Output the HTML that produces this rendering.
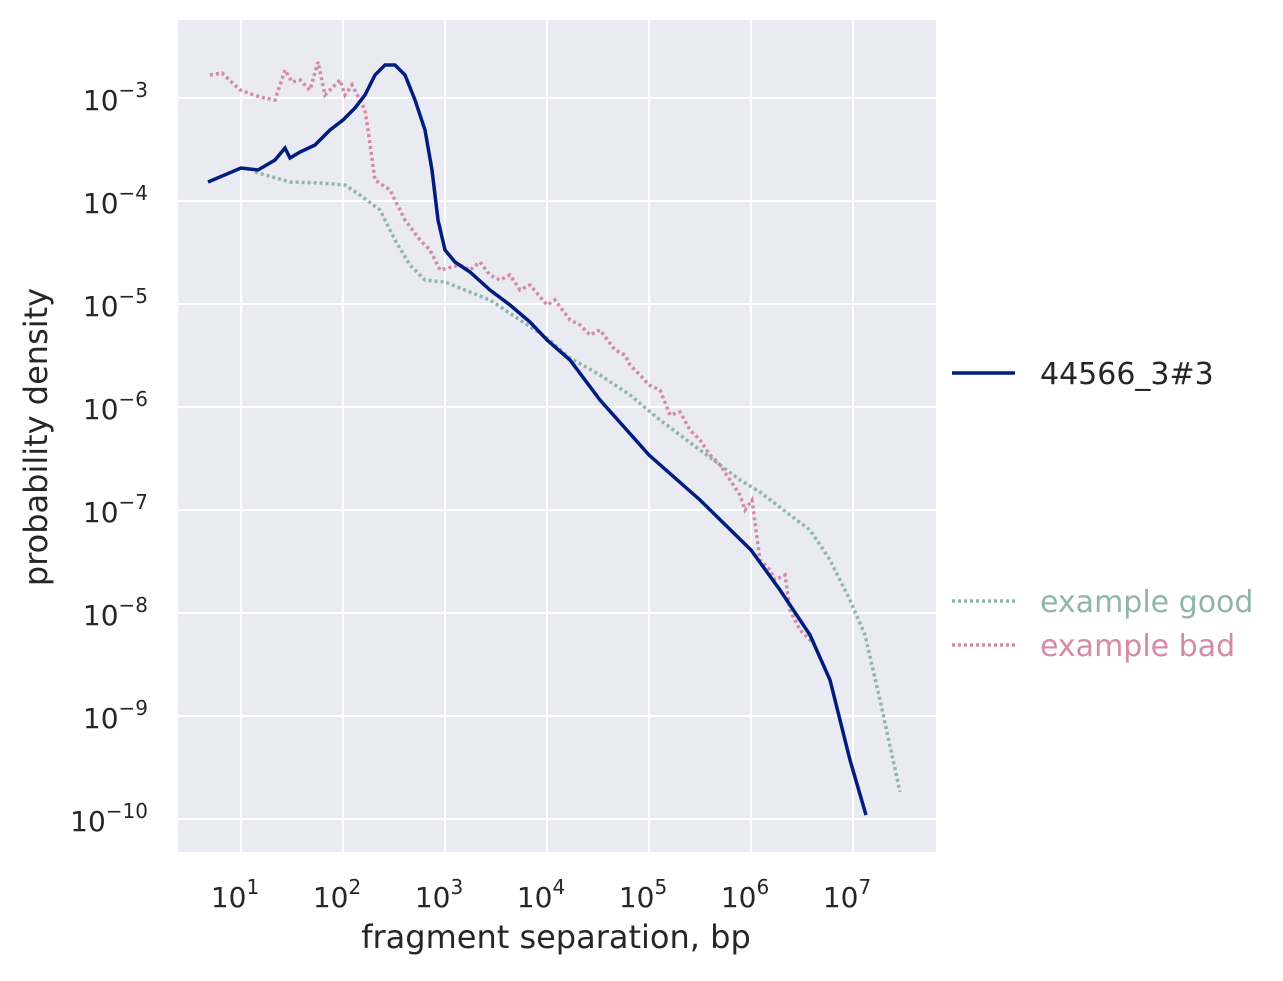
<!DOCTYPE html>
<html><head><meta charset="utf-8"><style>
body{margin:0;background:#fff}
svg{font-family:"DejaVu Sans","Liberation Sans",sans-serif}
</style></head><body>
<svg width="1283" height="976" xmlns="http://www.w3.org/2000/svg">
<rect x="178" y="20" width="758" height="832" fill="#eaeaf2"/>
<g stroke="#fff" stroke-width="2">
<line x1="241" y1="20" x2="241" y2="852"/><line x1="343" y1="20" x2="343" y2="852"/>
<line x1="445" y1="20" x2="445" y2="852"/><line x1="547" y1="20" x2="547" y2="852"/>
<line x1="649" y1="20" x2="649" y2="852"/><line x1="751" y1="20" x2="751" y2="852"/>
<line x1="853" y1="20" x2="853" y2="852"/>
<line x1="178" y1="98" x2="936" y2="98"/><line x1="178" y1="201" x2="936" y2="201"/>
<line x1="178" y1="304" x2="936" y2="304"/><line x1="178" y1="407" x2="936" y2="407"/>
<line x1="178" y1="510" x2="936" y2="510"/><line x1="178" y1="613" x2="936" y2="613"/>
<line x1="178" y1="716" x2="936" y2="716"/><line x1="178" y1="819" x2="936" y2="819"/>
</g>
<g fill="#262626" font-size="28" text-anchor="middle">
<text x="235" y="907">10<tspan font-size="20" dy="-13">1</tspan></text>
<text x="337" y="907">10<tspan font-size="20" dy="-13">2</tspan></text>
<text x="439" y="907">10<tspan font-size="20" dy="-13">3</tspan></text>
<text x="541" y="907">10<tspan font-size="20" dy="-13">4</tspan></text>
<text x="643" y="907">10<tspan font-size="20" dy="-13">5</tspan></text>
<text x="745" y="907">10<tspan font-size="20" dy="-13">6</tspan></text>
<text x="847" y="907">10<tspan font-size="20" dy="-13">7</tspan></text>
</g>
<g fill="#262626" font-size="28" text-anchor="end">
<text x="148" y="110">10<tspan font-size="20" dy="-13">−3</tspan></text>
<text x="148" y="213">10<tspan font-size="20" dy="-13">−4</tspan></text>
<text x="148" y="316">10<tspan font-size="20" dy="-13">−5</tspan></text>
<text x="148" y="419">10<tspan font-size="20" dy="-13">−6</tspan></text>
<text x="148" y="522">10<tspan font-size="20" dy="-13">−7</tspan></text>
<text x="148" y="625">10<tspan font-size="20" dy="-13">−8</tspan></text>
<text x="148" y="728">10<tspan font-size="20" dy="-13">−9</tspan></text>
<text x="148" y="831">10<tspan font-size="20" dy="-13">−10</tspan></text>
</g>
<text x="556" y="948" font-size="32" fill="#262626" text-anchor="middle">fragment separation, bp</text>
<text transform="translate(47,437) rotate(-90)" font-size="32" fill="#262626" text-anchor="middle">probability density</text>
<polyline fill="none" stroke="#8fb5ad" stroke-width="3.5" stroke-dasharray="3,3" points="255,172 290,182 320,183 345,185 360,195 380,210 395,240 410,265 425,280 445,282 465,290 490,300 520,320 547,338 570,358 600,375 630,395 660,420 700,450 740,480 760,492 790,515 810,530 830,560 850,600 865,635 880,700 900,792"/>
<polyline fill="none" stroke="#d48aa6" stroke-width="3.5" stroke-dasharray="3,3" points="210,75 222,73 240,90 260,97 275,100 285,70 292,82 300,80 310,90 318,62 325,95 330,90 340,80 345,95 352,85 360,100 365,110 368,130 375,180 390,190 405,220 420,240 430,250 440,270 460,265 470,270 480,262 490,275 500,280 510,275 520,290 530,285 547,305 555,300 570,320 580,325 590,335 600,330 615,350 625,355 630,365 640,375 649,385 660,390 670,415 680,412 690,430 700,440 710,455 720,465 730,480 740,495 745,510 752,500 760,560 770,570 775,580 785,575 790,610 800,630 815,645"/>
<polyline fill="none" stroke="#001c7f" stroke-width="3.5" points="208,182 241,168 258,170 275,160 285,148 290,158 300,152 315,145 330,130 343,120 355,108 365,95 375,75 385,65 395,65 405,75 415,100 425,130 432,170 438,220 445,250 455,262 470,272 490,290 510,305 530,322 547,340 570,360 600,400 649,455 700,500 751,550 780,590 810,635 830,680 850,760 866,815"/>
<line x1="952" y1="373" x2="1015" y2="373" stroke="#001c7f" stroke-width="3.5"/>
<text x="1040" y="384" font-size="30" fill="#262626">44566_3#3</text>
<line x1="952" y1="601" x2="1015" y2="601" stroke="#8fb5ad" stroke-width="3.5" stroke-dasharray="3,3"/>
<text x="1040" y="612" font-size="30" fill="#8fb5ad">example good</text>
<line x1="952" y1="645" x2="1015" y2="645" stroke="#d48aa6" stroke-width="3.5" stroke-dasharray="3,3"/>
<text x="1040" y="656" font-size="30" fill="#d48aa6">example bad</text>
</svg>
</body></html>
